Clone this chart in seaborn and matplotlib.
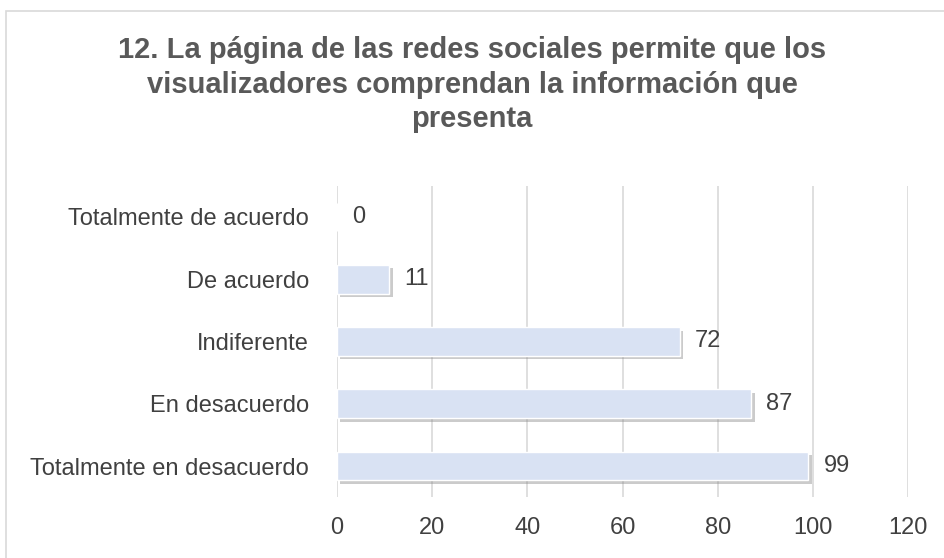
import matplotlib
matplotlib.use("Agg")
import matplotlib.pyplot as plt
import matplotlib.patheffects as pe
import pandas as pd
import seaborn as sns

# data
categorias = ["Totalmente de acuerdo", "De acuerdo", "Indiferente",
              "En desacuerdo", "Totalmente en desacuerdo"]
valores = [0, 11, 72, 87, 99]
ticks_x = [0, 20, 40, 60, 80, 100, 120]
titulo = ("12. La página de las redes sociales permite que los\n"
          "visualizadores comprendan la información que\npresenta")

df = pd.DataFrame({"categoria": categorias, "valor": valores})

sns.set_style("white")
plt.rcParams['font.family'] = ['Liberation Sans Narrow', 'Liberation Sans', 'DejaVu Sans']

fig = plt.figure(figsize=(9.44, 5.58), dpi=100)
ax = fig.add_axes([0.357, 0.109, 0.605, 0.558])

# border around the chart area
fig.patches.append(plt.Rectangle((0.006, -0.01), 1.1, 0.99, transform=fig.transFigure,
                                 fill=False, edgecolor="#d9d9d9", linewidth=1.2))

sns.barplot(data=df, x="valor", y="categoria", orient="h", color="#d9e2f3",
            width=0.46, saturation=1, ax=ax, zorder=3)

for bar in ax.patches:
    bar.set_path_effects([pe.SimplePatchShadow(offset=(2.5, -2.5), shadow_rgbFace="#8c8c8c", alpha=0.45),
                          pe.Normal()])

ax.set_xlim(0, 120)
ax.set_ylim(4.5, -0.5)
ax.set_xticks(ticks_x)
ax.xaxis.grid(True, color="#d9d9d9", linewidth=1.2, zorder=0)
ax.set_axisbelow(True)
for s in ax.spines.values():
    s.set_visible(False)
ax.tick_params(axis="both", length=0, labelsize=17, colors="#404040")
ax.tick_params(axis="y", pad=20)
ax.tick_params(axis="x", pad=14)
ax.set_xlabel("")
ax.set_ylabel("")

for i, v in enumerate(valores):
    ax.text(v + 3.2, i, str(v), va="center", ha="left", fontsize=17, color="#404040")

fig.text(0.5, 0.935, titulo, ha="center", va="top", fontsize=21, fontweight="bold",
         color="#595959", linespacing=1.3)

fig.savefig("out.png", dpi=100)
